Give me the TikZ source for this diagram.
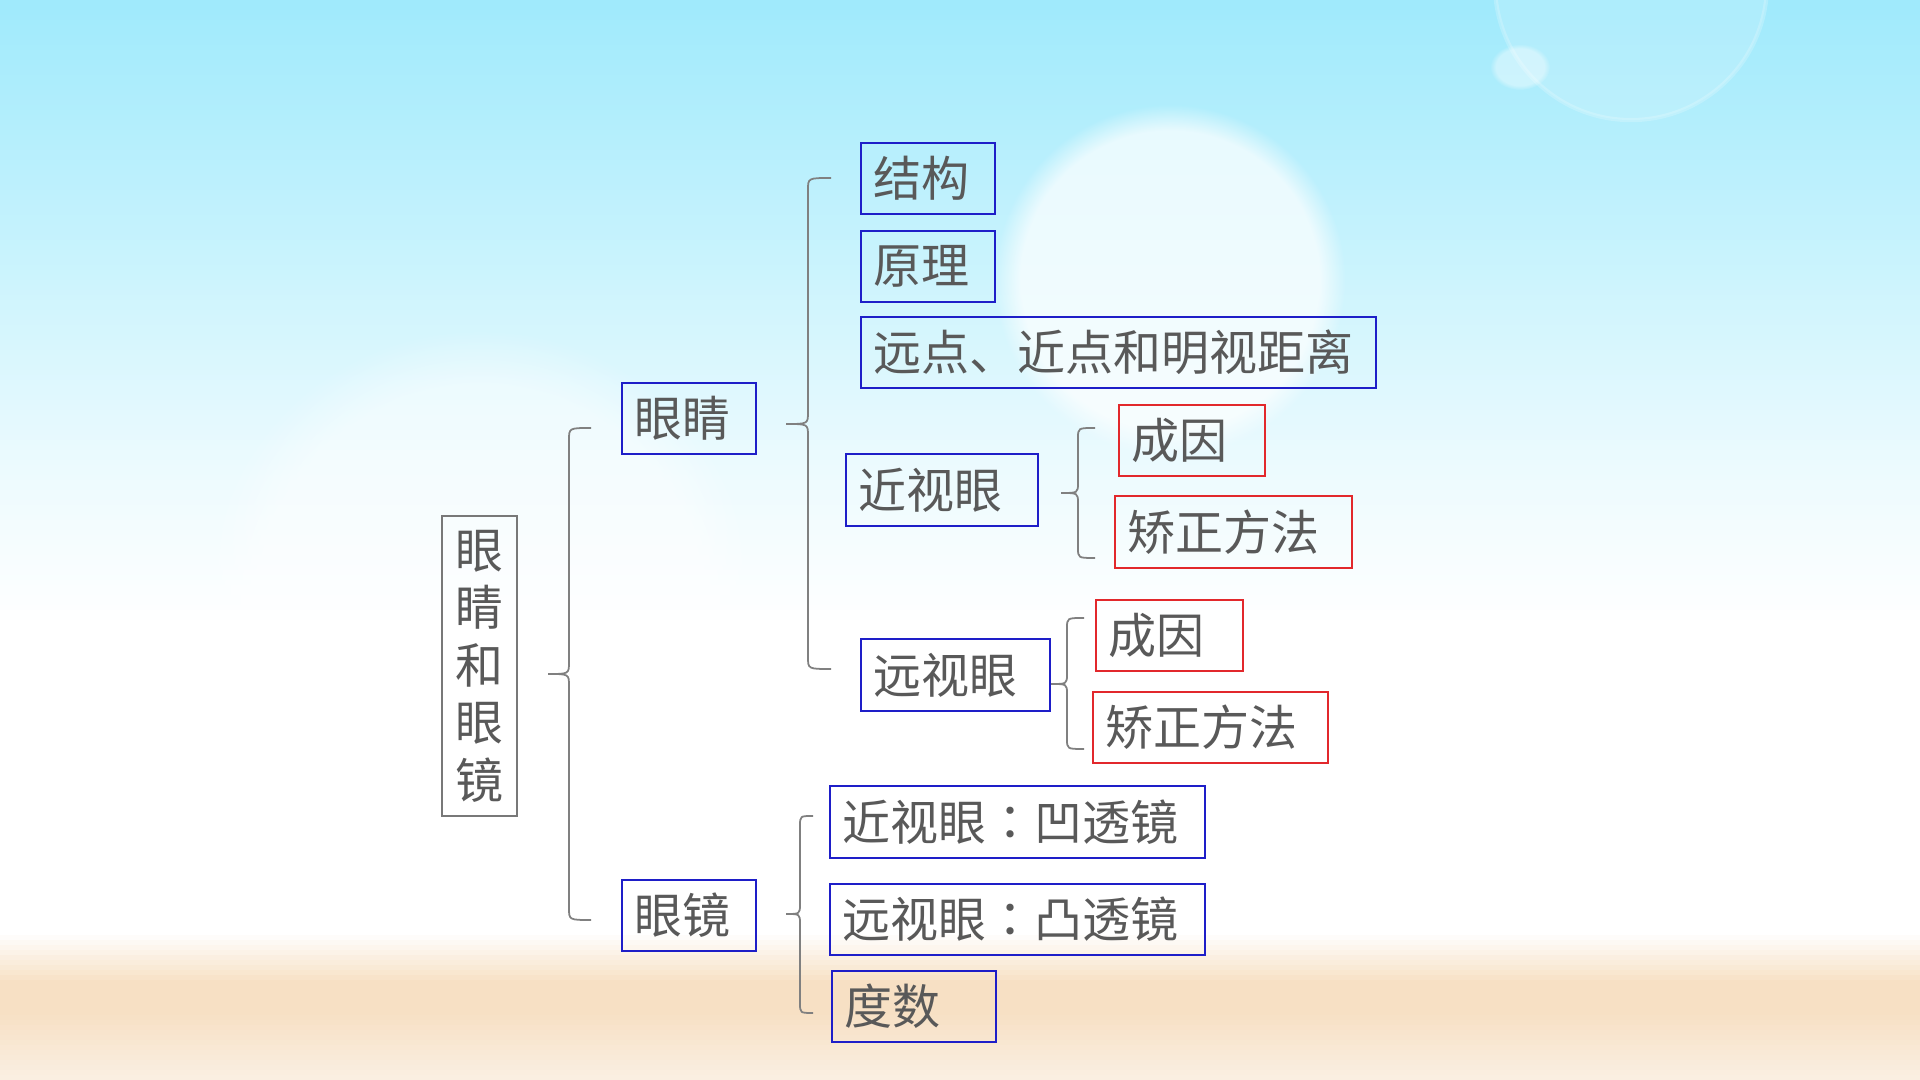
\documentclass[tikz,border=0pt]{standalone}
\usepackage{fontspec}
\newfontfamily\cjk{Noto Sans CJK SC}
\newfontfamily\cjktc{Noto Sans CJK TC}
\usetikzlibrary{fadings}
\definecolor{skytop}{RGB}{160,234,252}
\definecolor{skyone}{RGB}{200,243,253}
\definecolor{skytwo}{RGB}{234,250,254}
\definecolor{sand}{RGB}{247,224,196}
\definecolor{sandlow}{RGB}{250,240,228}
\definecolor{txtgray}{RGB}{89,89,89}
\definecolor{boxblue}{RGB}{30,30,200}
\definecolor{boxred}{RGB}{226,40,44}
\definecolor{rootgray}{RGB}{120,120,120}
\definecolor{bracegray}{RGB}{128,128,128}
\newcommand\mybgband[5]{%
  \foreach \yy in {#1,#2,...,#3}{%
    \pgfmathtruncatemacro\pp{(\yy-#1)/(#3+5-#1)*100}%
    \fill[#5!\pp!#4] (0,\yy) rectangle (1920,\yy+6);
  }}
\tikzset{
  lbl/.style={font=\cjk\fontsize{13.66pt}{16.36pt}\selectfont, text=txtgray,
    line width=0.6pt, inner xsep=0.12cm, inner ysep=0pt, anchor=north west, align=left},
  bluebox/.style={lbl, draw=boxblue},
  redbox/.style={lbl, draw=boxred},
  rootbox/.style={font=\cjk\fontsize{13.66pt}{16.36pt}\selectfont, text=txtgray,
    line width=0.6pt, draw=rootgray, inner sep=0pt, align=center},
  brace/.style={draw=bracegray, line width=0.5pt}
}
\begin{document}
\begin{tikzpicture}[x=0.01cm,y=-0.01cm]
\useasboundingbox (0,0) rectangle (1920,1080);
% ---------- background ----------
\begin{scope}
\clip (0,0) rectangle (1920,1080);
\mybgband{0}{5}{245}{skytop}{skyone}
\mybgband{250}{255}{445}{skyone}{skytwo}
\mybgband{450}{455}{615}{skytwo}{white}
\fill[white] (0,620) rectangle (1920,931);
\mybgband{930}{935}{975}{white}{sand}
\fill[sand] (0,980) rectangle (1920,1011);
\mybgband{1010}{1015}{1075}{sand}{sandlow}
\fill[white, opacity=0.7, path fading=circle with fuzzy edge 15 percent] (1170,280) circle (1.75cm);
\fill[white, opacity=0.45, path fading=circle with fuzzy edge 20 percent] (480,610) circle (2.8cm);
\fill[white, opacity=0.15] (1631,-16) circle (1.36cm);
\draw[white, opacity=0.2, line width=1.2pt] (1631,-16) circle (1.36cm);
\fill[white, opacity=0.4, path fading=circle with fuzzy edge 20 percent] (1520,67) ellipse (0.3cm and 0.23cm);
\end{scope}
% ---------- nodes ----------
\node[rootbox, minimum width=0.75cm, minimum height=3.0cm] (root) at (479.5,666) {眼\\睛\\和\\眼\\镜};
\node[bluebox, text width=1.10cm, minimum height=0.71cm] (eye) at (621,382) {眼睛};
\node[bluebox, text width=1.10cm, minimum height=0.71cm] (glass) at (621,879) {眼镜};
\node[bluebox, text width=1.10cm, minimum height=0.71cm] (jiegou) at (860,142) {结构};
\node[bluebox, text width=1.10cm, minimum height=0.71cm] (yuanli) at (860,230) {原理};
\node[bluebox, text width=4.91cm, minimum height=0.71cm] (yuandian) at (860,316) {远点、近点和明视距离};
\node[bluebox, text width=1.68cm, minimum height=0.72cm] (jinshi) at (845,453) {近视眼};
\node[redbox, text width=1.22cm, minimum height=0.71cm] (cyone) at (1118,404) {成因};
\node[redbox, text width=2.13cm, minimum height=0.72cm] (jzone) at (1114,495) {矫正方法};
\node[bluebox, text width=1.65cm, minimum height=0.72cm] (yuanshi) at (860,638) {远视眼};
\node[redbox, text width=1.23cm, minimum height=0.71cm] (cytwo) at (1095,599) {成因};
\node[redbox, text width=2.11cm, minimum height=0.71cm] (jztwo) at (1092,691) {矫正方法};
\node[bluebox, text width=3.51cm, minimum height=0.72cm] (aotou) at (829,785) {近视眼{\cjktc ：}凹透镜};
\node[bluebox, text width=3.51cm, minimum height=0.71cm] (tutou) at (829,883) {远视眼{\cjktc ：}凸透镜};
\node[bluebox, text width=1.40cm, minimum height=0.71cm] (dushu) at (831,970) {度数};
% ---------- braces ----------
% root brace
\coordinate (bat) at (591,428); \coordinate (bam) at (548,674); \coordinate (bab) at (591,920);
\draw[brace] (bat) .. controls (569,428) .. (569,440) -- (569,662)
  .. controls (569,674) .. (bam) .. controls (569,674) .. (569,686) -- (569,908)
  .. controls (569,920) .. (bab);
% eye brace
\coordinate (bbt) at (831,178); \coordinate (bbm) at (786,424); \coordinate (bbb) at (831,669);
\draw[brace] (bbt) .. controls (808,178) .. (808,190) -- (808,412)
  .. controls (808,424) .. (bbm) .. controls (808,424) .. (808,436) -- (808,657)
  .. controls (808,669) .. (bbb);
% near-sight brace
\coordinate (bct) at (1095,428); \coordinate (bcm) at (1061,493); \coordinate (bcb) at (1095,558);
\draw[brace] (bct) .. controls (1078,428) .. (1078,438) -- (1078,483)
  .. controls (1078,493) .. (bcm) .. controls (1078,493) .. (1078,503) -- (1078,548)
  .. controls (1078,558) .. (bcb);
% far-sight brace
\coordinate (bdt) at (1084,618); \coordinate (bdm) at (1051,684); \coordinate (bdb) at (1084,749);
\draw[brace] (bdt) .. controls (1067,618) .. (1067,628) -- (1067,674)
  .. controls (1067,684) .. (bdm) .. controls (1067,684) .. (1067,694) -- (1067,739)
  .. controls (1067,749) .. (bdb);
% glasses brace
\coordinate (bet) at (813,816); \coordinate (bem) at (786,914); \coordinate (beb) at (813,1013);
\draw[brace] (bet) .. controls (800,816) .. (800,826) -- (800,904)
  .. controls (800,914) .. (bem) .. controls (800,914) .. (800,924) -- (800,1003)
  .. controls (800,1013) .. (beb);
\end{tikzpicture}
\end{document}
